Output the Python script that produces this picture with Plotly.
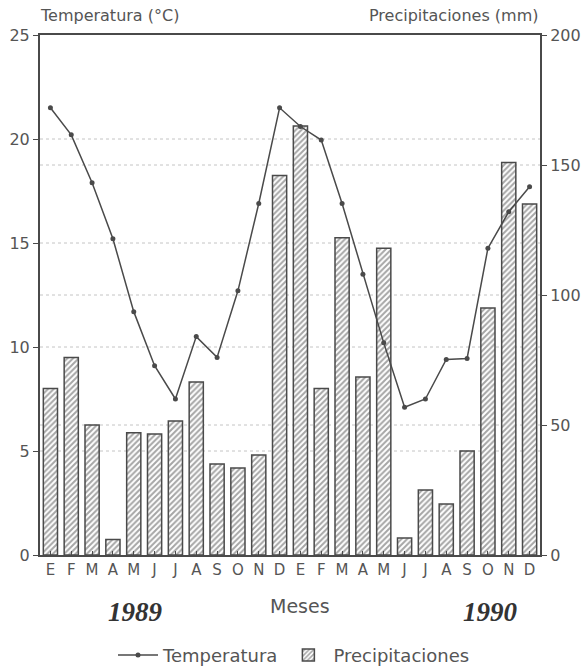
import plotly.graph_objects as go

months = ["E", "F", "M", "A", "M", "J", "J", "A", "S", "O", "N", "D"] * 2
precip = [64, 76, 50, 6, 47, 46.5, 51.5, 66.5, 35, 33.5, 38.5, 146,
          165, 64, 122, 68.5, 118, 6.5, 25, 19.6, 40, 95, 151, 135]
temp = [21.5, 20.2, 17.9, 15.2, 11.7, 9.1, 7.5, 10.5, 9.5, 12.7, 16.9, 21.5,
        20.6, 19.95, 16.9, 13.5, 10.2, 7.1, 7.5, 9.4, 9.45, 14.75, 16.5, 17.7]
temp_ticks = [0, 5, 10, 15, 20, 25]
precip_ticks = [0, 50, 100, 150, 200]
idx = list(range(len(months)))

ink = "#4a4a4a"
txt = "#555555"

fig = go.Figure()
fig.add_trace(go.Bar(
    x=idx, y=precip, name="Precipitaciones", yaxis="y",
    marker=dict(color="white", line=dict(color=ink, width=1.5),
                pattern=dict(shape="/", fgcolor="#4d4d4d", bgcolor="white", size=4, solidity=0.5)),
    width=0.68,
))
fig.add_trace(go.Scatter(
    x=idx, y=temp, name="Temperatura", yaxis="y2", mode="lines+markers",
    line=dict(color=ink, width=1.5), marker=dict(size=5, color=ink),
))

shapes = []
for t in temp_ticks[1:-1]:
    shapes.append(dict(type="line", xref="paper", x0=0, x1=1, yref="y2", y0=t, y1=t,
                       line=dict(color="#c4c4c4", width=1, dash="dot"), layer="below"))
for p in precip_ticks[1:-1]:
    shapes.append(dict(type="line", xref="paper", x0=0, x1=1, yref="y", y0=p, y1=p,
                       line=dict(color="#c4c4c4", width=1, dash="dot"), layer="below"))

fig.update_layout(
    width=588, height=670,
    margin=dict(l=40, r=48, t=35, b=115, autoexpand=False),
    paper_bgcolor="white", plot_bgcolor="white",
    font=dict(family="DejaVu Sans", color=txt, size=15),
    bargap=0.3,
    showlegend=True,
    legend=dict(orientation="h", x=0.5, xanchor="center", xref="container",
                y=0.022, yanchor="middle", yref="container",
                font=dict(size=18, color=txt), traceorder="reversed",
                itemwidth=40),
    xaxis=dict(range=[-0.5, 23.5], tickvals=idx, ticktext=months, showgrid=False,
               automargin=False,
               showline=True, mirror=True, linecolor=ink, linewidth=2,
               ticks="inside", ticklen=4, tickcolor=ink, tickfont=dict(size=15, color=txt)),
    yaxis=dict(range=[0, 200], tickvals=precip_ticks, side="right", showgrid=False,
               automargin=False,
               showline=True, linecolor=ink, linewidth=2, ticks="outside", ticklen=5,
               tickcolor=ink, zeroline=False, tickfont=dict(size=16, color=txt)),
    yaxis2=dict(range=[0, 25], tickvals=temp_ticks, side="left", overlaying="y",
                automargin=False,
                showgrid=False, showline=True, linecolor=ink, linewidth=2,
                ticks="outside", ticklen=5, tickcolor=ink, zeroline=False,
                tickfont=dict(size=16, color=txt)),
    shapes=shapes,
    annotations=[
        dict(text="Temperatura (°C)", xref="paper", yref="paper", x=-0.005, y=1.038,
             xanchor="left", yanchor="middle", showarrow=False, font=dict(size=16, color=txt)),
        dict(text="Precipitaciones (mm)", xref="paper", yref="paper", x=1.0, y=1.038,
             xanchor="right", yanchor="middle", showarrow=False, font=dict(size=16, color=txt)),
        dict(text="Meses", xref="paper", yref="paper", x=0.52, y=-0.098,
             xanchor="center", yanchor="middle", showarrow=False, font=dict(size=19, color=txt)),
        dict(text="<b><i>1989</i></b>", xref="paper", yref="paper", x=0.19, y=-0.11,
             xanchor="center", yanchor="middle", showarrow=False,
             font=dict(size=27, color="#333", family="Liberation Serif")),
        dict(text="<b><i>1990</i></b>", xref="paper", yref="paper", x=0.9, y=-0.11,
             xanchor="center", yanchor="middle", showarrow=False,
             font=dict(size=27, color="#333", family="Liberation Serif")),
    ],
)

fig.write_html("out.html", config={"displayModeBar": False},
               post_script="document.body.style.margin='0';document.body.style.overflow='hidden';")
